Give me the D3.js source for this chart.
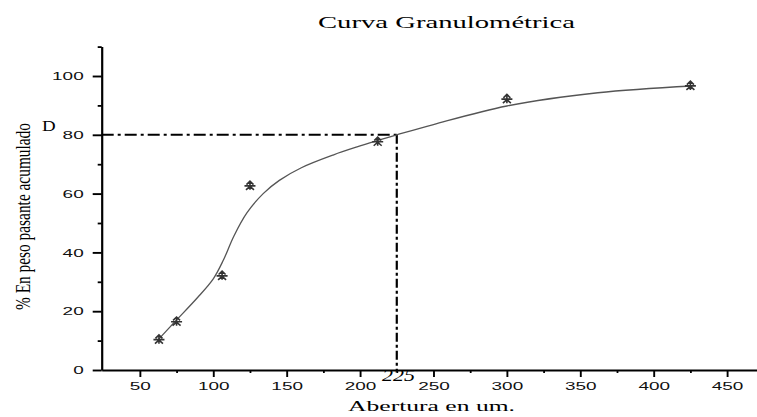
<!DOCTYPE html>
<html>
<head>
<meta charset="utf-8">
<script src="https://cdn.jsdelivr.net/npm/d3@7"></script>
<style>
  body { margin: 0; background: #fff; }
  svg { display: block; }
  .axis path, .axis line { stroke: #000; }
  .axis text { font-family: "Liberation Sans", Arial, sans-serif; font-size: 11.5px; fill: #111; }
</style>
</head>
<body>
<div id="chart"></div>
<script>
// sieve openings (um) and cumulative % passing
var aberturas = [63, 75, 106, 125, 212, 300, 425];
var pasante = [10.5, 16.6, 32.2, 62.8, 77.8, 92.3, 96.8];

// fitted curve
var curvaX = [63, 74, 89, 100, 107, 114, 123, 134, 145, 160, 182, 200, 212, 225, 250, 300, 362, 426];
var curvaY = [10.6, 16.5, 24.5, 31, 37.5, 45.5, 53.5, 60, 64.5, 68.8, 73.2, 76.2, 78.1, 80, 83.5, 89.8, 94.3, 96.6];

var xMajor = [50, 100, 150, 200, 250, 300, 350, 400, 450];
var xMinor = [75, 125, 175, 225, 275, 325, 375, 425];
var yMajor = [0, 20, 40, 60, 80, 100];
var yMinor = [10, 30, 50, 70, 90, 110];

var d80 = 80, abertura80 = 225;

var width = 757, height = 417;
var stretch = 1.65;

var svg = d3.select("#chart").append("svg")
    .attr("width", width)
    .attr("height", height);

var x = d3.scaleLinear().domain([24, 475]).range([101.7, 763.8]);
var y = d3.scaleLinear().domain([0, 110]).range([370, 46.6]);

// title
svg.append("text")
    .attr("x", 318).attr("y", 28)
    .attr("textLength", 257).attr("lengthAdjust", "spacingAndGlyphs")
    .style("font-family", "'Liberation Serif', 'Times New Roman', serif")
    .style("font-size", "17px")
    .text("Curva Granulométrica");

// minor ticks
svg.append("g")
    .attr("class", "axis")
    .attr("transform", "translate(0," + y(0) + ")")
    .call(d3.axisBottom(x).tickValues(xMinor).tickSize(3).tickFormat(""))
    .call(function(g) { g.select(".domain").remove(); })
    .selectAll("line").attr("stroke-width", 1.8);

svg.append("g")
    .attr("class", "axis")
    .attr("transform", "translate(" + x(24) + ",0)")
    .call(d3.axisLeft(y).tickValues(yMinor).tickSize(4).tickFormat(""))
    .call(function(g) { g.select(".domain").remove(); })
    .selectAll("line").attr("stroke-width", 1.8);

// major axes
var gx = svg.append("g")
    .attr("class", "axis")
    .attr("transform", "translate(0," + y(0) + ")")
    .call(d3.axisBottom(x).tickValues(xMajor).tickSize(7).tickSizeOuter(0));
gx.select(".domain").attr("stroke-width", 2.2);
gx.selectAll("line").attr("stroke-width", 1.9);
gx.selectAll("text")
    .attr("y", 12)
    .attr("transform", "scale(" + stretch + ",1)");

var gy = svg.append("g")
    .attr("class", "axis")
    .attr("transform", "translate(" + x(24) + ",0)")
    .call(d3.axisLeft(y).tickValues(yMajor).tickSize(9).tickSizeOuter(0));
gy.select(".domain").attr("stroke-width", 2.2);
gy.selectAll("line").attr("stroke-width", 1.9);
gy.selectAll("text")
    .attr("x", -18 / stretch)
    .attr("transform", "scale(" + stretch + ",1)");

// D80 guide lines
var guia = "12,4,3,4";
svg.append("line")
    .attr("x1", x(24)).attr("x2", x(abertura80))
    .attr("y1", y(d80)).attr("y2", y(d80))
    .attr("stroke", "#000").attr("stroke-width", 2)
    .attr("stroke-dasharray", guia);
svg.append("line")
    .attr("x1", x(abertura80)).attr("x2", x(abertura80))
    .attr("y1", y(d80)).attr("y2", y(0))
    .attr("stroke", "#000").attr("stroke-width", 2.2)
    .attr("stroke-dasharray", "9,3,3,3");

svg.append("text")
    .attr("transform", "translate(42,131) scale(1.35,1)")
    .style("font-family", "'Liberation Serif', 'Times New Roman', serif")
    .style("font-size", "14px")
    .text("D");

svg.append("text")
    .attr("x", 382).attr("y", 381)
    .attr("textLength", 33).attr("lengthAdjust", "spacingAndGlyphs")
    .style("font-family", "'Liberation Serif', 'Times New Roman', serif")
    .style("font-style", "italic")
    .style("font-size", "16px")
    .text(abertura80);

// fitted curve
var curva = curvaX.map(function(d, i) { return [d, curvaY[i]]; });
svg.append("path")
    .datum(curva)
    .attr("fill", "none")
    .attr("stroke", "#555")
    .attr("stroke-width", 1.3)
    .attr("d", d3.line()
        .x(function(d) { return x(d[0]); })
        .y(function(d) { return y(d[1]); })
        .curve(d3.curveCatmullRom));

// markers
var marca = "M-5.5,0.5L5.5,0.5M0,-4L0,4.5M-3.5,-0.8L0,-4.2L3.5,-0.8M-4,4.5L0,1L4,4.5";
svg.selectAll(".marca")
    .data(aberturas)
    .enter().append("path")
    .attr("class", "marca")
    .attr("transform", function(d, i) { return "translate(" + x(d) + "," + y(pasante[i]) + ")"; })
    .attr("d", marca)
    .attr("fill", "none")
    .attr("stroke", "#333")
    .attr("stroke-width", 1.6);

// axis titles
svg.append("text")
    .attr("transform", "translate(30,310) rotate(-90)")
    .attr("textLength", 187).attr("lengthAdjust", "spacingAndGlyphs")
    .style("font-family", "'Liberation Serif', 'Times New Roman', serif")
    .style("font-size", "22px")
    .text("% En peso pasante acumulado");

svg.append("text")
    .attr("x", 348).attr("y", 411)
    .attr("textLength", 167).attr("lengthAdjust", "spacingAndGlyphs")
    .style("font-family", "'Liberation Serif', 'Times New Roman', serif")
    .style("font-size", "15px")
    .text("Abertura en um.");
</script>
</body>
</html>
